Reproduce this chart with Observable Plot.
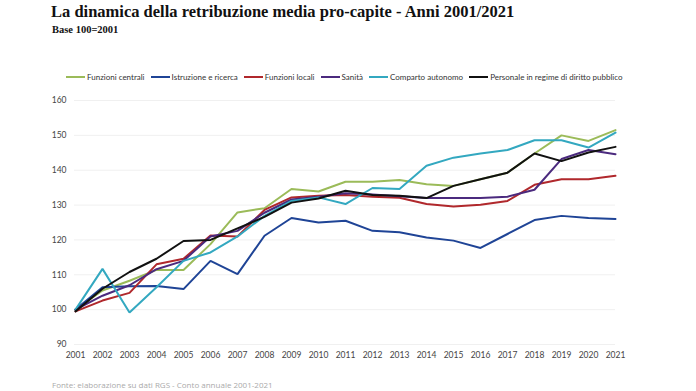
<!DOCTYPE html>
<html><head><meta charset="utf-8">
<script src="https://cdn.jsdelivr.net/npm/d3@7"></script>
<script src="https://cdn.jsdelivr.net/npm/@observablehq/plot@0.6"></script>
<style>
html,body{margin:0;padding:0;background:#fff;width:696px;height:391px;overflow:hidden;position:relative;}
#title{position:absolute;left:51px;top:2px;font-family:"Liberation Serif",serif;font-weight:bold;font-size:16.5px;color:#111;white-space:nowrap;}
#sub{position:absolute;left:52px;top:24px;font-family:"Liberation Serif",serif;font-weight:bold;font-size:10.5px;color:#111;}
#legend{position:absolute;left:66px;top:72px;font-family:Lato,"Open Sans",sans-serif;font-size:8px;color:#333;white-space:nowrap;display:flex;align-items:center;}
#legend span.it{display:inline-flex;align-items:center;margin-right:6px;}
#legend span.sw{display:inline-block;width:19px;height:2.5px;margin-right:2px;}
#chart{position:absolute;left:0;top:90px;}
#foot{position:absolute;left:52px;top:379px;font-family:"Open Sans",sans-serif;font-size:8px;color:#aaa;white-space:nowrap;}
</style></head><body>
<div id="title">La dinamica della retribuzione media pro-capite - Anni 2001/2021</div>
<div id="sub">Base 100=2001</div>
<div id="legend"></div>
<div id="chart"></div>
<div id="foot">Fonte: elaborazione su dati RGS - Conto annuale 2001-2021</div>
<script>
const years = [2001,2002,2003,2004,2005,2006,2007,2008,2009,2010,2011,2012,2013,2014,2015,2016,2017,2018,2019,2020,2021];
const seriesNames = ["Funzioni centrali","Istruzione e ricerca","Funzioni locali","Sanità","Comparto autonomo","Personale in regime di diritto pubblico"];
const colors = ["#9bbb59","#1f4496","#b0282c","#4b2a7e","#33a8c0","#111111"];
const funzioniCentrali = [100,105.5,108.3,111.4,111.4,118.8,127.9,129.1,134.6,133.9,136.7,136.7,137.2,136.0,135.5,137.4,139.3,144.8,150.0,148.4,151.5];
const istruzioneRicerca = [100,106.4,106.7,106.8,105.9,114.0,110.2,121.2,126.3,125.0,125.5,122.6,122.2,120.7,119.8,117.7,121.7,125.7,126.9,126.3,126.0];
const funzioniLocali = [99.5,102.6,104.8,113.0,114.6,121.3,121.0,128.6,132.2,132.7,132.9,132.4,132.1,130.3,129.6,130.1,131.2,135.8,137.4,137.4,138.4];
const sanita = [100,104.0,107.0,111.6,114.0,121.0,122.6,127.8,131.6,132.4,133.4,133.0,132.5,132.0,132.0,132.0,132.4,134.4,143.2,145.8,144.6];
const compartoAutonomo = [100,111.7,99.2,106.4,114.0,116.4,121.0,126.9,131.2,132.2,130.3,134.9,134.6,141.3,143.6,144.8,145.8,148.6,148.6,146.5,150.8];
const personaleDirittoPubblico = [99.5,106.0,110.8,114.6,119.7,120.0,123.3,126.6,130.7,131.9,134.1,132.9,132.7,132.0,135.5,137.4,139.3,144.8,142.6,145.1,146.7];
const yTicks = [90,100,110,120,130,140,150,160];

const allSeries = [funzioniCentrali,istruzioneRicerca,funzioniLocali,sanita,compartoAutonomo,personaleDirittoPubblico];
const data = [];
allSeries.forEach((arr,i)=>arr.forEach((v,j)=>data.push({serie:seriesNames[i],anno:years[j],valore:v})));

const leg = document.getElementById("legend");
seriesNames.forEach((n,i)=>{
  const it=document.createElement("span");it.className="it";
  const sw=document.createElement("span");sw.className="sw";sw.style.background=colors[i];
  it.appendChild(sw);it.appendChild(document.createTextNode(n));leg.appendChild(it);
});

const chart = Plot.plot({
  width:696,height:274,
  marginLeft:74,marginRight:81,marginTop:10,marginBottom:20,
  style:{fontFamily:"Lato, 'Open Sans', sans-serif",fontSize:"8.5px",color:"#444",background:"#fff"},
  x:{type:"point",domain:years,padding:0,tickSize:0,tickPadding:7,label:null},
  y:{domain:[90,160],ticks:yTicks,tickSize:0,tickPadding:8,label:null},
  color:{domain:seriesNames,range:colors},
  marks:[
    Plot.ruleY(yTicks,{stroke:"#f0f0f0",strokeWidth:1}),
    Plot.axisX({ticks:years,tickSize:0,tickPadding:7,tickFormat:d=>String(d)}),
    Plot.axisY({ticks:yTicks,tickSize:0,tickPadding:8}),
    Plot.line(data,{x:"anno",y:"valore",z:"serie",stroke:"serie",strokeWidth:2,strokeLinejoin:"miter"})
  ]
});
document.getElementById("chart").appendChild(chart);
</script>
</body></html>
